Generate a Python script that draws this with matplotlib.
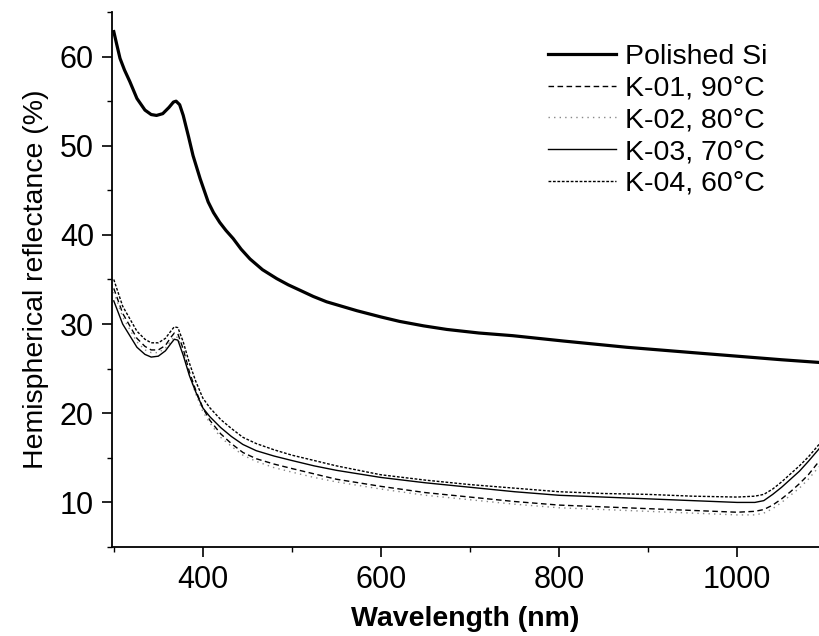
import matplotlib
matplotlib.use("Agg")
import matplotlib.pyplot as plt
from matplotlib.ticker import MultipleLocator

plt.rcParams['font.family'] = ['Liberation Sans', 'DejaVu Sans']

# Polished silicon reference spectrum
wl_si = [300, 303, 307, 312, 318, 326, 335, 342, 348, 355, 362, 367, 370, 374, 378,
         384, 389, 397, 406, 412, 419, 426, 434, 443, 453, 467, 483, 496, 509, 524,
         539, 556, 573, 600, 621, 648, 674, 710, 748, 805, 876, 950, 1000, 1050, 1092]
r_si = [62.8, 61.5, 59.8, 58.5, 57.2, 55.3, 54.0, 53.5, 53.4, 53.6, 54.3, 54.9, 55.0,
        54.6, 53.4, 51.0, 48.9, 46.3, 43.7, 42.5, 41.4, 40.5, 39.6, 38.4, 37.3, 36.1,
        35.1, 34.4, 33.8, 33.1, 32.5, 32.0, 31.5, 30.8, 30.3, 29.8, 29.4, 29.0, 28.7,
        28.1, 27.4, 26.8, 26.4, 26.0, 25.7]

# Textured samples share one wavelength grid
wl_k = [300, 305, 310, 318, 326, 335, 342, 350, 358, 364, 368, 372, 378, 385, 392, 400,
        408, 420, 432, 445, 460, 480, 500, 525, 550, 600, 650, 700, 750, 800, 850, 900,
        950, 1000, 1020, 1030, 1040, 1050, 1060, 1070, 1080, 1092]
r_k01 = [34.0, 32.6, 31.2, 29.8, 28.4, 27.5, 27.1, 27.1, 27.6, 28.5, 29.0, 28.9, 27.2,
         24.6, 22.6, 20.6, 19.2, 17.7, 16.6, 15.6, 14.9, 14.3, 13.8, 13.2, 12.6, 11.8,
         11.1, 10.6, 10.1, 9.7, 9.5, 9.3, 9.1, 8.9, 9.0, 9.2, 9.7, 10.4, 11.2, 12.1,
         13.1, 14.6]
r_k02 = [33.6, 32.2, 30.8, 29.4, 28.0, 27.1, 26.8, 26.8, 27.3, 28.1, 28.6, 28.5, 26.8,
         24.3, 22.2, 20.2, 18.9, 17.3, 16.3, 15.3, 14.6, 13.9, 13.4, 12.8, 12.3, 11.5,
         10.8, 10.3, 9.8, 9.4, 9.2, 9.0, 8.8, 8.6, 8.6, 8.8, 9.3, 10.0, 10.8, 11.6,
         12.6, 14.0]
r_k03 = [32.6, 31.3, 30.0, 28.7, 27.4, 26.6, 26.3, 26.4, 27.0, 27.8, 28.3, 28.2, 26.5,
         24.2, 22.4, 20.6, 19.6, 18.4, 17.4, 16.5, 15.8, 15.2, 14.7, 14.1, 13.6, 12.8,
         12.2, 11.7, 11.2, 10.8, 10.6, 10.4, 10.2, 10.0, 10.0, 10.2, 10.9, 11.7, 12.6,
         13.5, 14.6, 16.0]
r_k04 = [35.0, 33.5, 32.0, 30.6, 29.2, 28.3, 27.9, 27.9, 28.4, 29.2, 29.7, 29.6, 28.0,
         25.6, 23.6, 21.7, 20.6, 19.3, 18.3, 17.3, 16.6, 15.9, 15.3, 14.7, 14.1, 13.1,
         12.5, 12.0, 11.6, 11.2, 11.0, 10.9, 10.7, 10.6, 10.7, 10.9, 11.5, 12.3, 13.2,
         14.1, 15.1, 16.5]

labels = ["Polished Si", "K-01, 90°C", "K-02, 80°C", "K-03, 70°C", "K-04, 60°C"]

fig = plt.figure(figsize=(8.19, 6.36), dpi=100)
ax = fig.add_axes([112 / 819, 1 - 547 / 636, 1 - 112 / 819, (547 - 12) / 636])

ax.plot(wl_si, r_si, color="black", lw=2.3, label=labels[0])
ax.plot(wl_k, r_k01, color="black", lw=1.0, ls=(0, (4, 2.5)), label=labels[1])
ax.plot(wl_k, r_k02, color="#888888", lw=1.0, ls=(0, (1, 3)), label=labels[2])
ax.plot(wl_k, r_k03, color="black", lw=1.0, ls="-", label=labels[3])
ax.plot(wl_k, r_k04, color="black", lw=1.0, ls=(0, (2, 1.2)), label=labels[4])

ax.set_xlim(298, 1092)
ax.set_ylim(5, 65)

ax.xaxis.set_major_locator(MultipleLocator(200))
ax.xaxis.set_minor_locator(MultipleLocator(100))
ax.yaxis.set_major_locator(MultipleLocator(10))
ax.yaxis.set_minor_locator(MultipleLocator(5))

for side in ("top", "right"):
    ax.spines[side].set_visible(False)
for side in ("left", "bottom"):
    ax.spines[side].set_linewidth(1.3)

ax.tick_params(which="major", direction="out", length=7, width=1.2, labelsize=22, pad=6)
ax.tick_params(which="minor", direction="out", length=3.5, width=1.0)

ax.set_xlabel("Wavelength (nm)", fontsize=20.5, fontweight="bold", labelpad=8)
ax.set_ylabel("Hemispherical reflectance (%)", fontsize=20.5, labelpad=8)

leg = ax.legend(loc="upper right", bbox_to_anchor=(767 / 819, 1 - 44 / 636),
                bbox_transform=fig.transFigure, frameon=False, fontsize=20.5,
                handlelength=2.4, handletextpad=0.3, labelspacing=0.2,
                borderpad=0, borderaxespad=0)

fig.savefig("out.png", dpi=100)
